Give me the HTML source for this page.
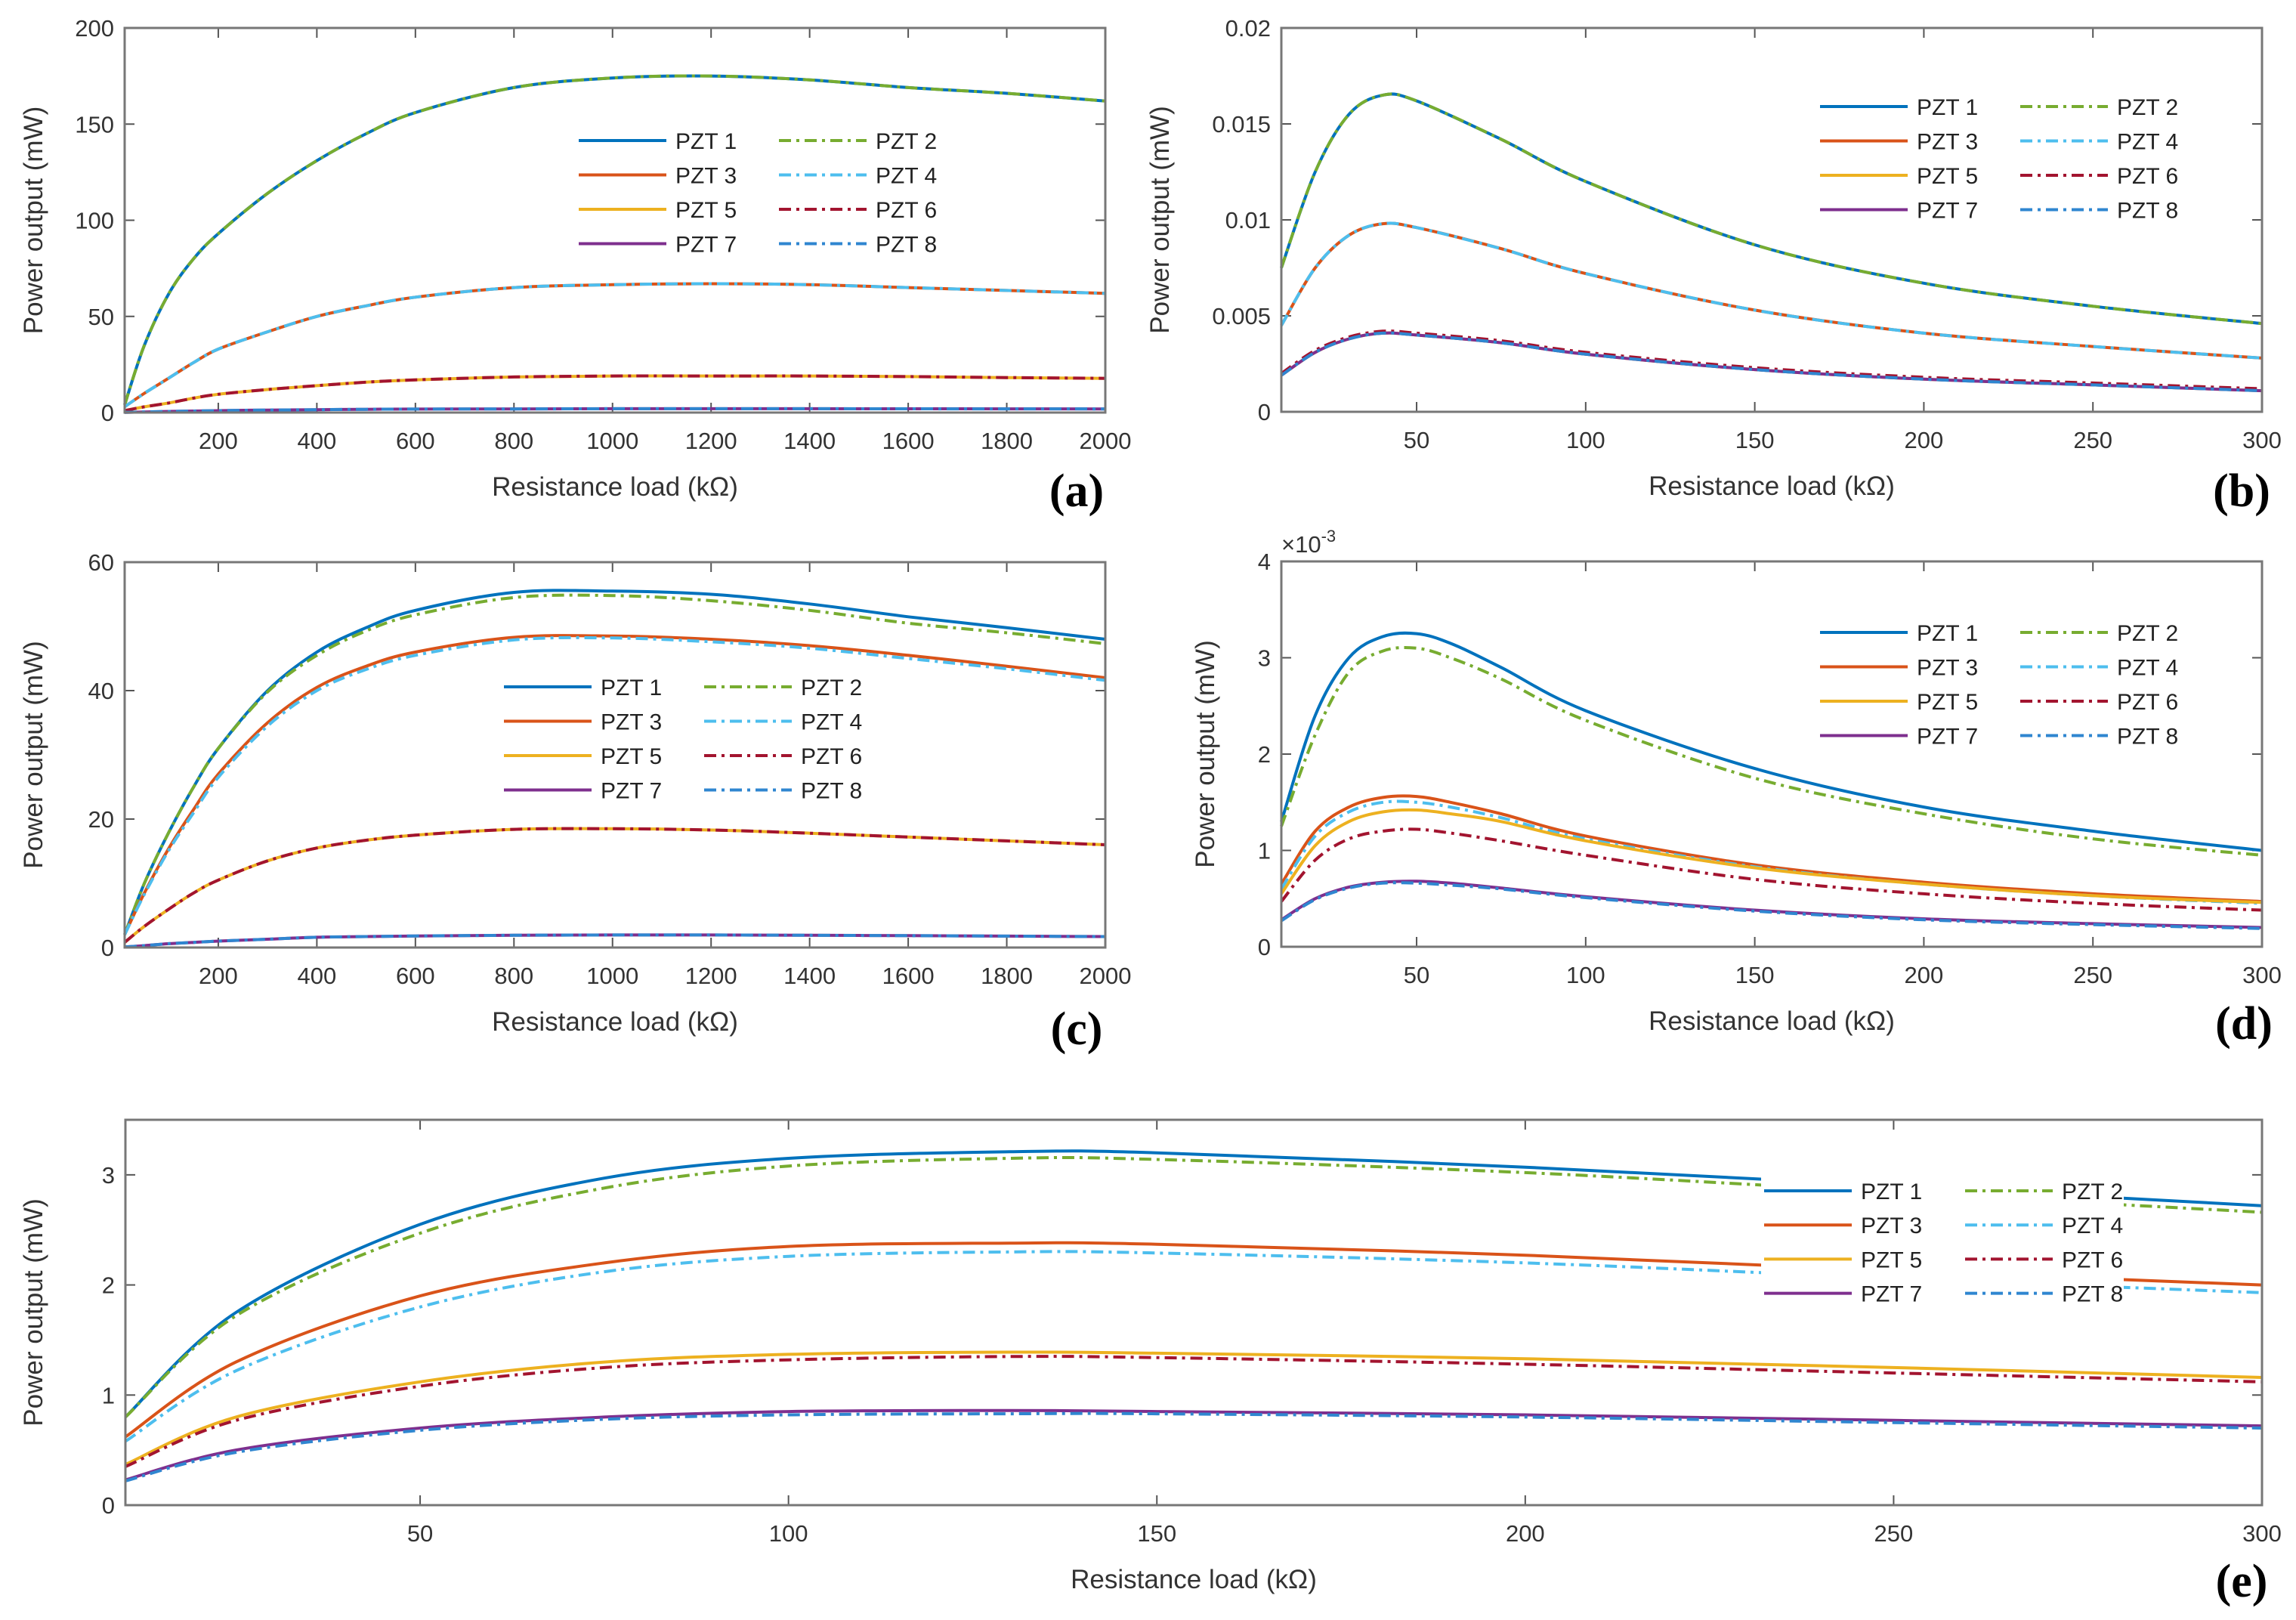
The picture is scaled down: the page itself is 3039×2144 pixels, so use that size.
<!DOCTYPE html>
<html><head><meta charset="utf-8"><style>
html,body{margin:0;padding:0;background:#fff}
svg{display:block}
text{font-family:"Liberation Sans",sans-serif}
</style></head><body>
<svg id="fig" width="3039" height="2144" viewBox="0 0 3039 2144" xmlns="http://www.w3.org/2000/svg"></svg>
<script>
// ---- data ----
const seriesNames = ["PZT 1","PZT 2","PZT 3","PZT 4","PZT 5","PZT 6","PZT 7","PZT 8"];
const xA = [10,50,100,150,200,300,400,500,600,800,1000,1200,1400,1600,1800,2000];
const aP12 = [4,35,62,80,93,114,131,145,156,169,174,175,173,169,166,162];
const aP34 = [3,10,18,26,33,42,50,55.5,60,65,66.5,67,66.5,65,63.5,62];
const aP56 = [1,3,5,7.5,9.5,12,14,15.8,17,18.5,19,19,19,18.7,18.2,17.8];
const aP78 = [0.1,0.3,0.6,0.8,1,1.3,1.5,1.7,1.8,1.9,2,2,2,1.95,1.92,1.9];
const xB = [10,20,30,40,50,75,100,150,200,250,300];
const bP12 = [0.0075,0.0125,0.0155,0.0165,0.0162,0.0142,0.0120,0.0087,0.0067,0.0055,0.0046];
const bP34 = [0.0045,0.0075,0.0092,0.0098,0.0096,0.0085,0.0072,0.0053,0.0041,0.0034,0.0028];
const bP5 = [0.0019,0.0031,0.0038,0.0041,0.0040,0.0036,0.0030,0.0022,0.0017,0.0014,0.0011];
const bP6 = [0.0020,0.0032,0.0039,0.0042,0.0041,0.0037,0.0031,0.0023,0.0018,0.0015,0.0012];
const cP1 = [2,10,18,25,31,40,46,49.8,52.5,55.3,55.5,55,53.5,51.5,49.8,48];
const cP2 = [2,10,18,25,31,39.8,45.5,49.3,51.8,54.5,54.8,54,52.5,50.5,49,47.3];
const cP3 = [2,8.5,15.5,21.5,27,35,40.5,43.8,46,48.3,48.5,48,47,45.5,43.8,42];
const cP4 = [2,8.3,15.2,21,26.5,34.5,40,43.3,45.5,47.9,48.2,47.6,46.6,45,43.4,41.6];
const cP56 = [0.8,3.3,6,8.5,10.5,13.5,15.5,16.7,17.5,18.4,18.5,18.3,17.8,17.2,16.6,16];
const cP78 = [0.1,0.3,0.6,0.8,1,1.3,1.6,1.7,1.8,1.9,1.95,1.95,1.9,1.85,1.78,1.7];
const xD = [10,20,30,40,50,60,75,100,150,200,250,300];
const dP1 = [1.3,2.4,3.0,3.22,3.25,3.15,2.9,2.45,1.85,1.45,1.2,1.0];
const dP2 = [1.25,2.2,2.85,3.07,3.1,3.0,2.78,2.35,1.75,1.38,1.12,0.95];
const dP3 = [0.65,1.2,1.45,1.55,1.56,1.5,1.38,1.15,0.85,0.67,0.55,0.47];
const dP4 = [0.6,1.15,1.4,1.5,1.5,1.45,1.34,1.12,0.83,0.65,0.53,0.45];
const dP5 = [0.55,1.05,1.3,1.4,1.42,1.38,1.3,1.1,0.82,0.65,0.53,0.46];
const dP6 = [0.47,0.9,1.12,1.2,1.22,1.18,1.1,0.95,0.7,0.55,0.45,0.38];
const dP7 = [0.28,0.5,0.62,0.67,0.68,0.66,0.61,0.52,0.38,0.29,0.24,0.2];
const dP8 = [0.27,0.49,0.61,0.66,0.66,0.64,0.6,0.51,0.37,0.28,0.23,0.19];
const xE = [10,25,50,75,100,130,150,200,250,300];
const eP1 = [0.8,1.75,2.55,2.97,3.15,3.21,3.2,3.07,2.9,2.72];
const eP2 = [0.8,1.72,2.47,2.88,3.08,3.15,3.14,3.02,2.84,2.66];
const eP3 = [0.62,1.3,1.9,2.2,2.35,2.38,2.37,2.27,2.13,2.0];
const eP4 = [0.58,1.22,1.8,2.12,2.26,2.3,2.29,2.2,2.06,1.93];
const eP5 = [0.37,0.8,1.12,1.3,1.37,1.39,1.38,1.33,1.25,1.16];
const eP6 = [0.35,0.77,1.08,1.25,1.32,1.35,1.34,1.28,1.2,1.12];
const eP7 = [0.23,0.5,0.7,0.8,0.85,0.86,0.85,0.82,0.77,0.72];
const eP8 = [0.22,0.48,0.68,0.78,0.82,0.83,0.83,0.8,0.75,0.7];
const ticksLong = [200,400,600,800,1000,1200,1400,1600,1800,2000];
const ticksShort = [50,100,150,200,250,300];
const yTicksA = [0,50,100,150,200];
const yTicksB = [0,0.005,0.01,0.015,0.02];
const yLabelsB = ["0","0.005","0.01","0.015","0.02"];
const yTicksC = [0,20,40,60];
const yTicksD = [0,1,2,3,4];
const yTicksE = [0,1,2,3];

// ---- styles ----
const colors = ["#0072BD","#77AC30","#D95319","#4DBEEE","#EDB120","#A2142F","#7E2F8E","#2f86d0"];
const dashed = [false,true,false,true,false,true,false,true];
const NS = "http://www.w3.org/2000/svg";
const svg = document.getElementById('fig');
function el(tag, attrs, parent){const e=document.createElementNS(NS,tag);for(const k in attrs)e.setAttribute(k,attrs[k]);(parent||svg).appendChild(e);return e;}

const panels = [
 {id:'a',L:165,R:1463,T:37,B:546,x0:10,x1:2000,y0:0,y1:200,xt:ticksLong,yt:yTicksA,yl:null,xs:xA,
  ser:[aP12,aP12,aP34,aP34,aP56,aP56,aP78,aP78],leg:{x:766,y:186,dx:265,dy:45.5},ylabX:56,lab:{x:1425,y:650}},
 {id:'b',L:1696,R:2994,T:37,B:545,x0:10,x1:300,y0:0,y1:0.02,xt:ticksShort,yt:yTicksB,yl:yLabelsB,xs:xB,
  ser:[bP12,bP12,bP34,bP34,bP5,bP6,bP5,bP5],leg:{x:2409,y:141,dx:265,dy:45.5},ylabX:1547,lab:{x:2967,y:650}},
 {id:'c',L:165,R:1463,T:744,B:1254,x0:10,x1:2000,y0:0,y1:60,xt:ticksLong,yt:yTicksC,yl:null,xs:xA,
  ser:[cP1,cP2,cP3,cP4,cP56,cP56,cP78,cP78],leg:{x:667,y:909,dx:265,dy:45.5},ylabX:56,lab:{x:1425,y:1362}},
 {id:'d',L:1696,R:2994,T:743,B:1253,x0:10,x1:300,y0:0,y1:4,xt:ticksShort,yt:yTicksD,yl:null,xs:xD,
  ser:[dP1,dP2,dP3,dP4,dP5,dP6,dP7,dP8],leg:{x:2409,y:837,dx:265,dy:45.5},ylabX:1607,lab:{x:2970,y:1355},exp:true},
 {id:'e',L:166,R:2994,T:1482,B:1992,x0:10,x1:300,y0:0,y1:3.5,xt:ticksShort,yt:yTicksE,yl:null,xs:xE,
  ser:[eP1,eP2,eP3,eP4,eP5,eP6,eP7,eP8],leg:{x:2335,y:1576,dx:266,dy:45.2,box:[2331,1550,480,185]},ylabX:56,lab:{x:2967,y:2093}}
];

function smoothPath(pts){
  let d='M'+pts[0][0].toFixed(1)+','+pts[0][1].toFixed(1);
  for(let i=0;i<pts.length-1;i++){
    const p0=pts[Math.max(0,i-1)],p1=pts[i],p2=pts[i+1],p3=pts[Math.min(pts.length-1,i+2)];
    const c1=[p1[0]+(p2[0]-p0[0])/6,p1[1]+(p2[1]-p0[1])/6];
    const c2=[p2[0]-(p3[0]-p1[0])/6,p2[1]-(p3[1]-p1[1])/6];
    d+=' C'+c1[0].toFixed(1)+','+c1[1].toFixed(1)+' '+c2[0].toFixed(1)+','+c2[1].toFixed(1)+' '+p2[0].toFixed(1)+','+p2[1].toFixed(1);
  }
  return d;
}

panels.forEach(p=>{
  const g=el('g',{});
  
  
  const sx=v=>p.L+(v-p.x0)/(p.x1-p.x0)*(p.R-p.L);
  const sy=v=>p.B-(v-p.y0)/(p.y1-p.y0)*(p.B-p.T);
  p.xt.forEach(t=>{
    const x=sx(t);
    el('line',{x1:x,y1:p.B,x2:x,y2:p.B-13,stroke:'#555','stroke-width':2},g);
    el('line',{x1:x,y1:p.T,x2:x,y2:p.T+13,stroke:'#555','stroke-width':2},g);
    const tx=el('text',{x:x,y:p.B+48,'font-size':31,fill:'#333','text-anchor':'middle'},g);
    tx.textContent=t;
    
    
  });
  p.yt.forEach((t,i)=>{
    const y=sy(t);
    el('line',{x1:p.L,y1:y,x2:p.L+13,y2:y,stroke:'#555','stroke-width':2},g);
    el('line',{x1:p.R,y1:y,x2:p.R-13,y2:y,stroke:'#555','stroke-width':2},g);
    const tx=el('text',{x:p.L-14,y:y+11,'font-size':31,fill:'#333','text-anchor':'end'},g);
    tx.textContent=p.yl?p.yl[i]:t;
    
    
  });
  [0,1,2,3,4,5,6,7].forEach(k=>{
    const pts=p.xs.map((x,i)=>[sx(x),sy(p.ser[k][i])]);
    const path=el('path',{d:smoothPath(pts),fill:'none',stroke:colors[k],'stroke-width':4,'stroke-linejoin':'round'},g);
    if(dashed[k]) path.setAttribute('stroke-dasharray','16 7 4 7');
    
    
  });
  el('rect',{x:p.L,y:p.T,width:p.R-p.L,height:p.B-p.T,fill:'none',stroke:'#777','stroke-width':3},g);
  const lg=el('g',{},g);
  
  
  if(p.leg.box) el('rect',{x:p.leg.box[0],y:p.leg.box[1],width:p.leg.box[2],height:p.leg.box[3],fill:'#fff'},lg);
  seriesNames.forEach((n,k)=>{
    const col=k%2,row=Math.floor(k/2);
    const x=p.leg.x+col*p.leg.dx,y=p.leg.y+row*p.leg.dy;
    const ln=el('line',{x1:x,y1:y,x2:x+116,y2:y,stroke:colors[k],'stroke-width':4},lg);
    if(dashed[k]) ln.setAttribute('stroke-dasharray','16 7 4 7');
    const tx=el('text',{x:x+128,y:y+11,'font-size':30,fill:'#222'},lg);
    tx.textContent=n;
    
    
  });
  const cx=(p.L+p.R)/2;
  const xl=el('text',{x:cx,y:p.B+110,'font-size':35,fill:'#333','text-anchor':'middle'},g);
  xl.textContent='Resistance load (kΩ)';
  
  
  const cy=(p.T+p.B)/2;
  const yl=el('text',{x:p.ylabX,y:cy,'font-size':35,fill:'#333','text-anchor':'middle',transform:'rotate(-90 '+p.ylabX+' '+cy+')'},g);
  yl.textContent='Power output (mW)';
  
  
  if(p.exp){
    const ex=el('text',{x:p.L,y:p.T-12,'font-size':31,fill:'#333'},g);
    ex.innerHTML='×10<tspan dy="-14" font-size="22">-3</tspan>';
    
    
  }
  const lb=el('text',{x:p.lab.x,y:p.lab.y+20,'text-anchor':'middle',style:'font-family:"Liberation Serif",serif;font-size:62px;font-weight:bold;fill:#000'},g);
  lb.textContent='('+p.id+')';
  
  
});
</script>
</body></html>
